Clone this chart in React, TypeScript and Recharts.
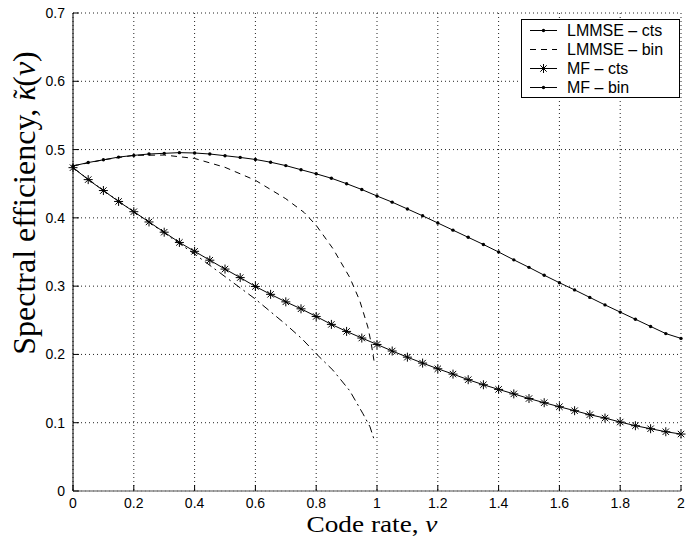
import React from "react";
import { LineChart, Line, XAxis, YAxis, CartesianGrid, Legend, Label } from "recharts";

// code rate grid used by the continuous-input curves
const rates = [
  0, 0.05, 0.1, 0.15, 0.2, 0.25, 0.3, 0.35, 0.4, 0.45, 0.5, 0.55, 0.6, 0.65, 0.7, 0.75, 0.8, 0.85, 0.9, 0.95,
  1, 1.05, 1.1, 1.15, 1.2, 1.25, 1.3, 1.35, 1.4, 1.45, 1.5, 1.55, 1.6, 1.65, 1.7, 1.75, 1.8, 1.85, 1.9, 1.95, 2,
];

const lmmseCts = [
  0.476, 0.481, 0.485, 0.489, 0.4915, 0.4935, 0.4945, 0.4955, 0.495, 0.4935, 0.491, 0.4885, 0.4855, 0.4815,
  0.4765, 0.4705, 0.4645, 0.458, 0.45, 0.4415, 0.432, 0.423, 0.413, 0.403, 0.3925, 0.382, 0.3715, 0.361, 0.35,
  0.3385, 0.3275, 0.316, 0.305, 0.2945, 0.2835, 0.2725, 0.262, 0.2515, 0.241, 0.2305, 0.2235,
];

const mfCts = [
  0.4735, 0.456, 0.44, 0.424, 0.409, 0.394, 0.379, 0.364, 0.351, 0.338, 0.325, 0.3125, 0.2995, 0.288, 0.277,
  0.2668, 0.2556, 0.244, 0.2337, 0.224, 0.2146, 0.205, 0.196, 0.1873, 0.179, 0.1712, 0.163, 0.1556, 0.1488,
  0.1422, 0.1354, 0.1293, 0.1234, 0.1176, 0.1117, 0.1068, 0.101, 0.0956, 0.0912, 0.0868, 0.0834,
];

// binary-input curves stop just short of rate 1
const lmmseBinRates = [0, 0.1, 0.2, 0.3, 0.4, 0.5, 0.6, 0.7, 0.76, 0.8, 0.855, 0.91, 0.943, 0.97, 0.981, 0.99];
const lmmseBinVals = [0.476, 0.485, 0.4915, 0.492, 0.487, 0.474, 0.455, 0.428, 0.408, 0.389, 0.355, 0.313, 0.279, 0.24, 0.216, 0.191];

const mfBinRates = [0, 0.1, 0.2, 0.3, 0.4, 0.5, 0.6, 0.7, 0.753, 0.8, 0.855, 0.91, 0.954, 0.977, 0.99];
const mfBinVals = [0.4735, 0.44, 0.409, 0.378, 0.347, 0.314, 0.281, 0.244, 0.223, 0.201, 0.177, 0.147, 0.113, 0.094, 0.076];

const xTicks = [0, 0.2, 0.4, 0.6, 0.8, 1, 1.2, 1.4, 1.6, 1.8, 2];
const yTicks = [0, 0.1, 0.2, 0.3, 0.4, 0.5, 0.6, 0.7];

const seriesNames = ["LMMSE \u2013 cts", "LMMSE \u2013 bin", "MF \u2013 cts", "MF \u2013 bin"];

const ctsData = rates.map((x, i) => ({ x, lmmse: lmmseCts[i], mf: mfCts[i] }));
const lmmseBinData = lmmseBinRates.map((x, i) => ({ x, y: lmmseBinVals[i] }));
const mfBinData = mfBinRates.map((x, i) => ({ x, y: mfBinVals[i] }));

const sans = "'Liberation Sans', Arial, Helvetica, sans-serif";
const serif = "'Liberation Serif', 'Times New Roman', Times, serif";

const SmallDot = (p: any) => <circle key={p.index} cx={p.cx} cy={p.cy} r={1.7} fill="#000" />;

const Star = (p: any) => {
  const { cx, cy } = p;
  const r = 4.5;
  const d = 3.2;
  return (
    <path
      key={p.index}
      d={`M${cx - r},${cy}H${cx + r}M${cx},${cy - r}V${cy + r}M${cx - d},${cy - d}L${cx + d},${cy + d}M${cx - d},${cy + d}L${cx + d},${cy - d}`}
      stroke="#000"
      strokeWidth={1}
      fill="none"
    />
  );
};

function LegendBox() {
  const rows = [
    { name: seriesNames[0], dash: undefined, marker: "dot" },
    { name: seriesNames[1], dash: "6 5", marker: "" },
    { name: seriesNames[2], dash: undefined, marker: "star" },
    { name: seriesNames[3], dash: undefined, marker: "dot" },
  ];
  return (
    <div
      style={{
        border: "1px solid #000",
        background: "#fff",
        paddingTop: 1,
        fontFamily: sans,
        fontSize: 16,
        color: "#000",
        width: 157,
      }}
    >
      {rows.map((r) => (
        <div key={r.name} style={{ display: "flex", alignItems: "center", height: 19 }}>
          <svg width={36} height={19} style={{ display: "block" }}>
            <line x1={8} x2={35} y1={9.5} y2={9.5} stroke="#000" strokeDasharray={r.dash} />
            {r.marker === "dot" && <circle cx={21.5} cy={9.5} r={1.7} fill="#000" />}
            {r.marker === "star" && Star({ cx: 21.5, cy: 9.5, index: 0 })}
          </svg>
          <span style={{ marginLeft: 9, whiteSpace: "nowrap", lineHeight: "19px" }}>{r.name}</span>
        </div>
      ))}
    </div>
  );
}

const XTitle = () => (
  <text x={372} y={532} textAnchor="middle" fontFamily={serif} fontSize={23} fill="#000" textLength={131} lengthAdjust="spacingAndGlyphs">
    Code rate, <tspan fontStyle="italic">{"\u03bd"}</tspan>
  </text>
);

const YTitle = () => (
  <text
    x={35}
    y={203}
    transform="rotate(-90 35 203)"
    textAnchor="middle"
    fontFamily={serif}
    fontSize={32}
    fill="#000"
  >
    Spectral efficiency, <tspan fontStyle="italic">{"\u03ba"}</tspan>
    <tspan dx="-0.48em" dy="-0.12em" fontSize="0.85em">{"\u02dc"}</tspan>
    <tspan dx="0.08em" dy="0.1em">(</tspan>
    <tspan fontStyle="italic">{"\u03bd"}</tspan>)
  </text>
);

export default function App() {
  const tickStyle = { fontFamily: sans, fontSize: 14, fill: "#000" };
  return (
    <div style={{ position: "absolute", left: 0, top: 0, width: 695, height: 540, background: "#fff" }}>
      <LineChart width={695} height={540} data={ctsData} margin={{ top: 13, right: 14, bottom: 0, left: 0 }}>
        <CartesianGrid stroke="#222" strokeDasharray="1 3" />
        <XAxis
          dataKey="x"
          type="number"
          domain={[0, 2]}
          ticks={xTicks}
          tickFormatter={(v) => String(v)}
          height={49}
          tick={tickStyle}
          tickSize={-6}
          tickMargin={13}
          tickLine={{ stroke: "#000" }}
          axisLine={{ stroke: "#888", strokeWidth: 1.5 }}
          interval={0}
        >
          <Label content={XTitle} />
        </XAxis>
        <XAxis
          xAxisId="top"
          orientation="top"
          dataKey="x"
          type="number"
          domain={[0, 2]}
          ticks={xTicks}
          height={0}
          tick={false}
          tickSize={-6}
          tickLine={{ stroke: "#000" }}
          axisLine={{ stroke: "#000" }}
          interval={0}
        />
        <YAxis
          type="number"
          domain={[0, 0.7]}
          ticks={yTicks}
          tickFormatter={(v) => String(v)}
          width={73}
          tick={tickStyle}
          tickSize={-6}
          tickMargin={14}
          tickLine={{ stroke: "#000" }}
          axisLine={{ stroke: "#000" }}
          interval={0}
        >
          <Label content={YTitle} />
        </YAxis>
        <YAxis
          yAxisId="right"
          orientation="right"
          type="number"
          domain={[0, 0.7]}
          ticks={yTicks}
          width={0}
          tick={false}
          tickSize={-6}
          tickLine={{ stroke: "#000" }}
          axisLine={{ stroke: "#000" }}
          interval={0}
        />
        <Line
          name={seriesNames[1]}
          data={lmmseBinData}
          dataKey="y"
          type="linear"
          stroke="#000"
          strokeWidth={1}
          strokeDasharray="6 5"
          dot={false}
          isAnimationActive={false}
        />
        <Line
          name={seriesNames[3]}
          data={mfBinData}
          dataKey="y"
          type="linear"
          stroke="#000"
          strokeWidth={1}
          strokeDasharray="8 4 2 4"
          dot={false}
          isAnimationActive={false}
        />
        <Line
          name={seriesNames[0]}
          dataKey="lmmse"
          type="linear"
          stroke="#000"
          strokeWidth={1}
          dot={SmallDot}
          isAnimationActive={false}
        />
        <Line
          name={seriesNames[2]}
          dataKey="mf"
          type="linear"
          stroke="#000"
          strokeWidth={1}
          dot={Star}
          isAnimationActive={false}
        />
        <Legend
          layout="horizontal"
          align="center"
          verticalAlign="middle"
          content={() => <LegendBox />}
          wrapperStyle={{ left: 521, top: 19, width: 159, height: "auto", bottom: "auto", right: "auto" }}
        />
      </LineChart>
    </div>
  );
}
